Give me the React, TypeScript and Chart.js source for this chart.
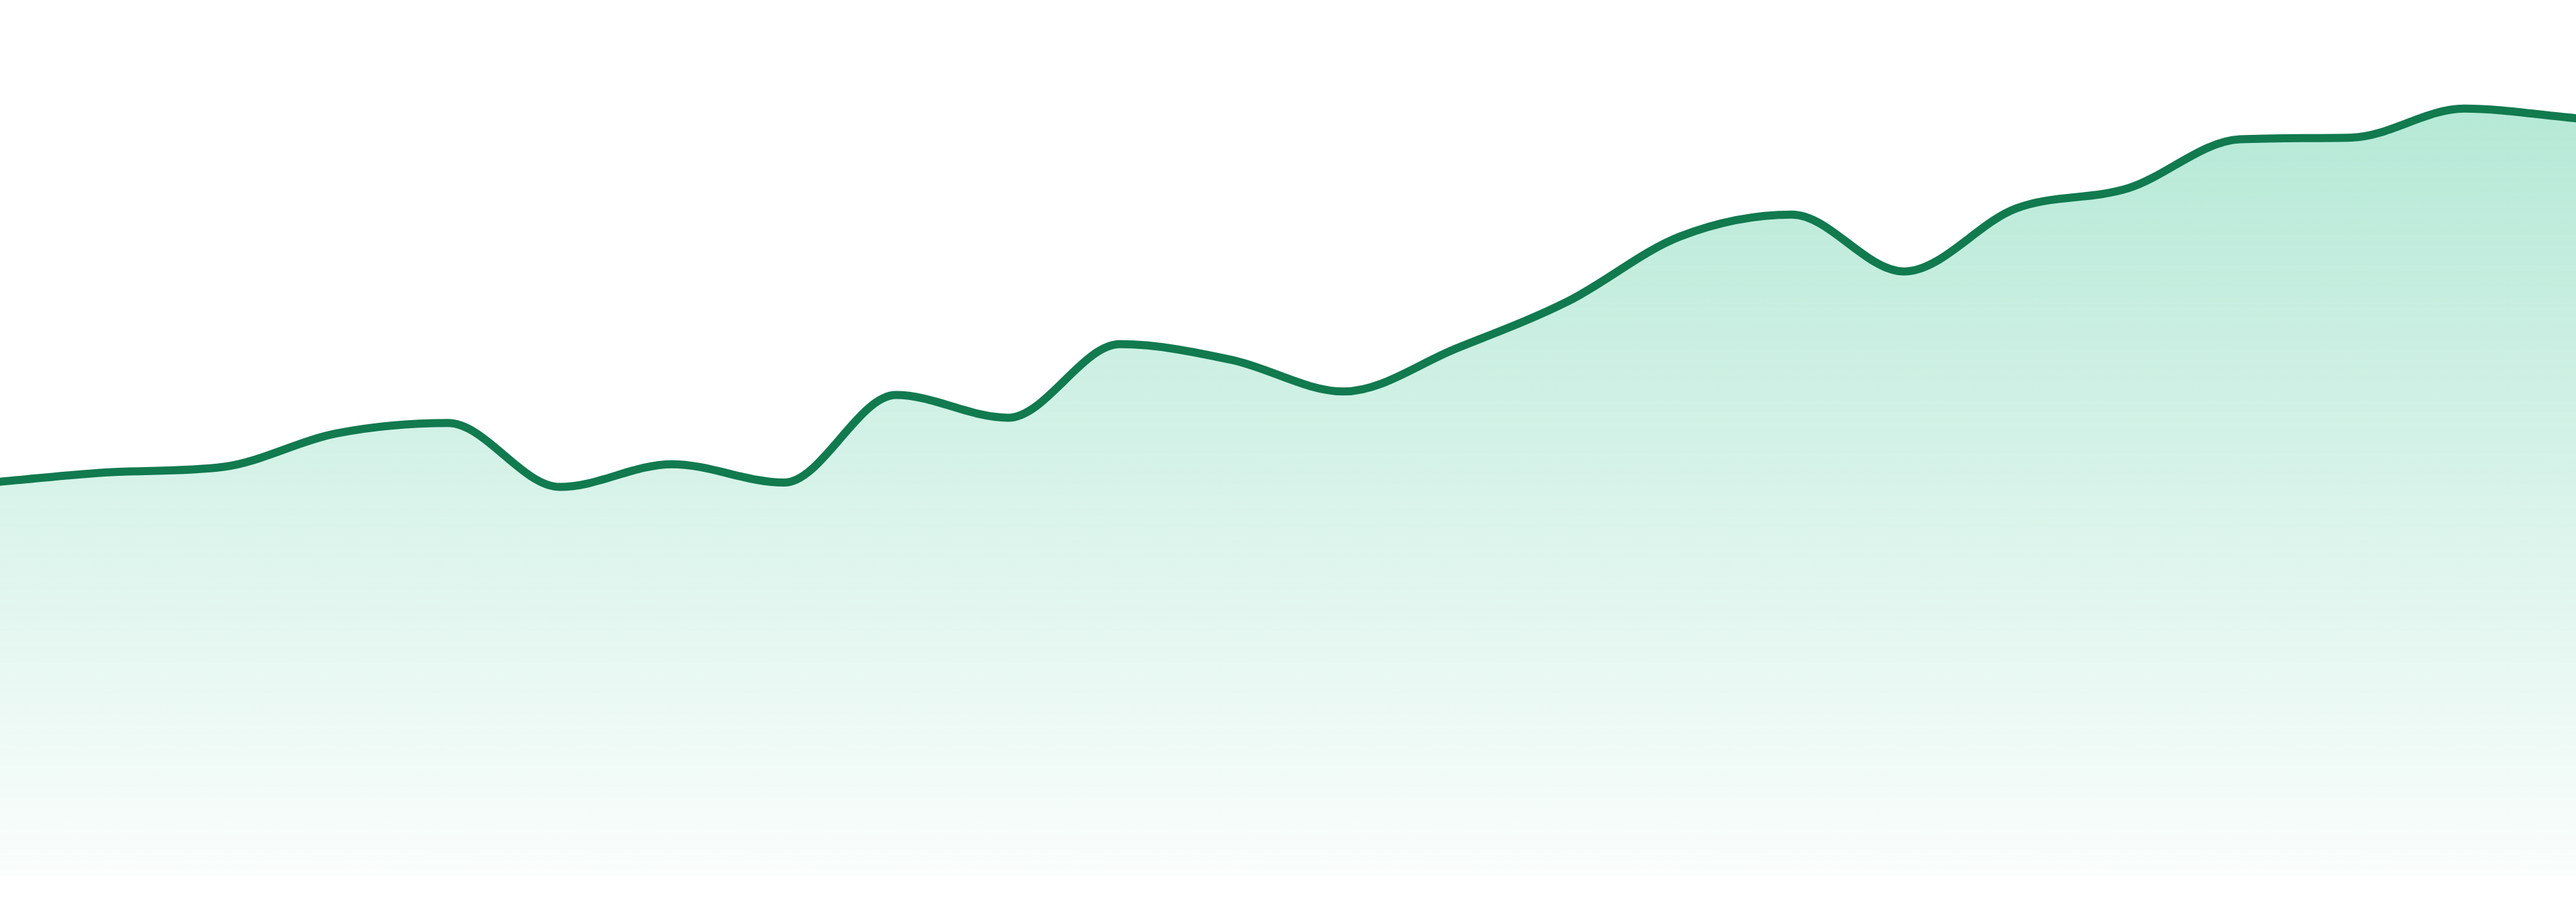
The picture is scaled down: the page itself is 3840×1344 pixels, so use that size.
import React, { useEffect, useRef } from "react";
import { Chart, registerables } from "chart.js";

Chart.register(...registerables);

const labels: string[] = [
  "1", "2", "3", "4", "5", "6", "7", "8", "9", "10", "11", "12",
  "13", "14", "15", "16", "17", "18", "19", "20", "21", "22", "23", "24",
];

const values: number[] = [
  45.0, 46.1, 46.7, 50.5, 51.7, 44.4, 47.0, 44.9, 54.9, 52.3, 60.7, 58.9,
  55.3, 60.2, 65.6, 73.0, 75.5, 69.0, 76.2, 78.5, 84.1, 84.3, 87.6, 86.5,
];

const yMin = 0;
const yMax = 100;

export default function App() {
  const canvasRef = useRef<HTMLCanvasElement | null>(null);

  useEffect(() => {
    document.body.style.margin = "0";
    const canvas = canvasRef.current;
    if (!canvas) return;
    const chart = new Chart(canvas, {
      type: "line",
      data: {
        labels,
        datasets: [
          {
            data: values,
            borderColor: "#117a4f",
            borderWidth: 12,
            borderJoinStyle: "round",
            borderCapStyle: "round",
            pointRadius: 0,
            pointHoverRadius: 0,
            cubicInterpolationMode: "monotone",
            fill: "start",
            backgroundColor: (ctx: any) => {
              const { chart } = ctx;
              const area = chart.chartArea;
              if (!area) return "rgba(16,185,129,0.2)";
              const g = chart.ctx.createLinearGradient(0, area.top, 0, area.bottom);
              g.addColorStop(0, "rgba(16,183,122,0.35)");
              g.addColorStop(1, "rgba(16,183,122,0.02)");
              return g;
            },
          },
        ],
      },
      options: {
        animation: false,
        responsive: true,
        maintainAspectRatio: false,
        layout: { padding: 0 },
        plugins: {
          legend: { display: false },
          tooltip: { enabled: false },
        },
        scales: {
          x: { display: false, offset: false },
          y: { display: false, min: yMin, max: yMax },
        },
      },
    });
    return () => chart.destroy();
  }, []);

  return (
    <div
      style={{
        position: "absolute",
        left: 0,
        top: 0,
        width: "3840px",
        height: "1305px",
        background: "#ffffff",
      }}
    >
      <canvas ref={canvasRef} />
    </div>
  );
}
